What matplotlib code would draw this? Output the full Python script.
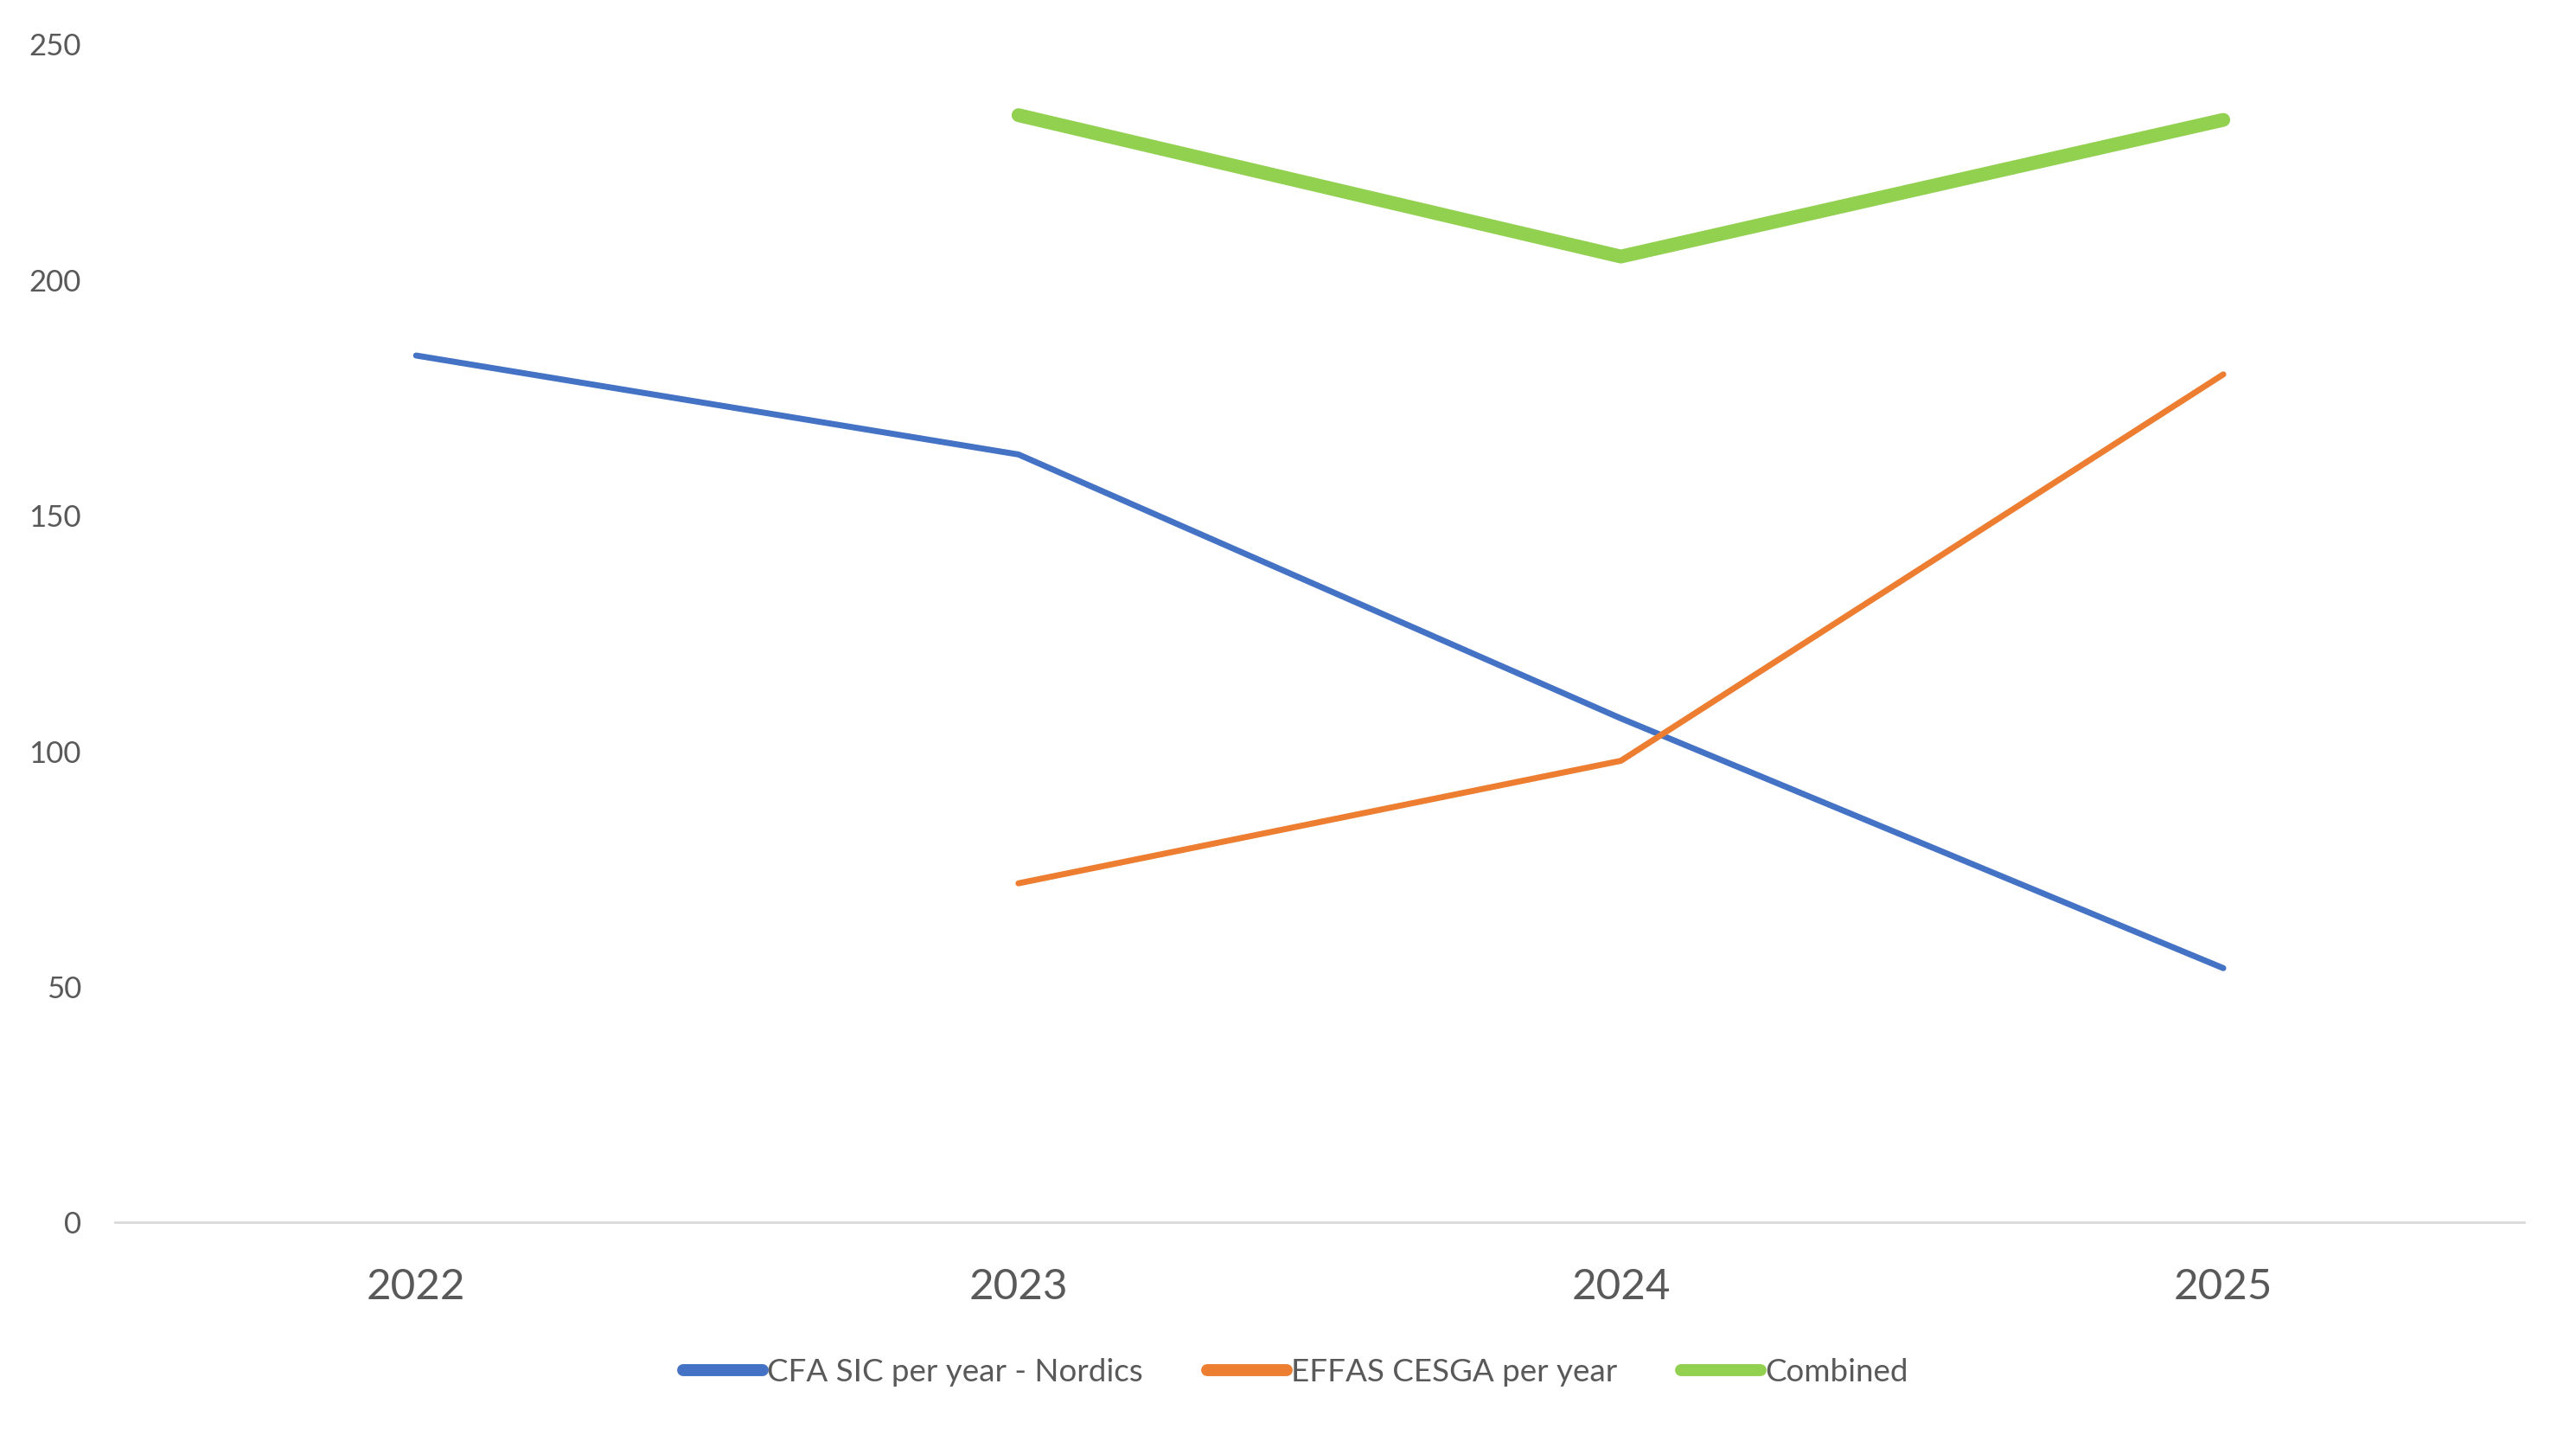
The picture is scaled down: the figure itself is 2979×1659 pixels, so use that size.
import numpy as np
import matplotlib.pyplot as plt

years = ["2022", "2023", "2024", "2025"]
cfa_sic = [184, 163, 107, 54]
effas = [np.nan, 72, 98, 180]
combined = [np.nan, 235, 205, 234]

plt.rcParams['font.family'] = ['Lato', 'DejaVu Sans']

fig = plt.figure(figsize=(29.79, 16.59), dpi=100)
ax = fig.add_axes([0.0446, 0.148, 0.9354, 0.821])

x = np.arange(len(years))
ax.plot(x, cfa_sic, color='#4472C4', lw=5, solid_capstyle='round', solid_joinstyle='round',
        label='CFA SIC per year - Nordics')
ax.plot(x, effas, color='#ED7D31', lw=5, solid_capstyle='round', solid_joinstyle='round',
        label='EFFAS CESGA per year')
ax.plot(x, combined, color='#92D050', lw=11.5, solid_capstyle='round', solid_joinstyle='round',
        label='Combined')

ax.set_xlim(-0.5, 3.5)
ax.set_ylim(0, 250)
ax.set_xticks(x)
ax.set_xticklabels(years)
ax.set_yticks(np.arange(0, 251, 50))

for s in ['top', 'right', 'left']:
    ax.spines[s].set_visible(False)
ax.spines['bottom'].set_color('#D9D9D9')
ax.spines['bottom'].set_linewidth(2)

ax.tick_params(axis='x', length=0, pad=38, labelsize=35.5, labelcolor='#595959')
ax.tick_params(axis='y', length=0, pad=28, labelsize=25, labelcolor='#595959')

leg = fig.legend(loc='center', bbox_to_anchor=(0.503, 0.044), ncol=3, frameon=False,
                 fontsize=26.5, handlelength=2.5, handletextpad=0.15, columnspacing=2.0)
for t in leg.get_texts():
    t.set_color('#595959')
for h in leg.get_lines():
    h.set_linewidth(10)
    h.set_solid_capstyle('round')

fig.savefig('out.png', dpi=100)
